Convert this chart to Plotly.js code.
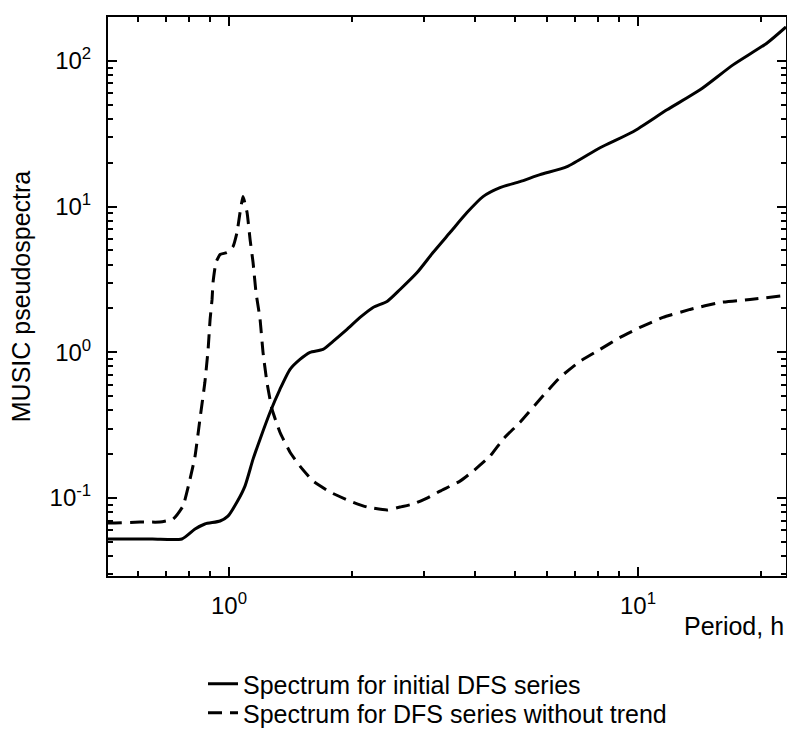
<!DOCTYPE html>
<html>
<head>
<meta charset="utf-8">
<script src="https://cdn.plot.ly/plotly-3.0.1.min.js"></script>
<style>html,body{margin:0;padding:0;background:#fff;}#chart{width:787px;height:738px;}</style>
</head>
<body>
<div id="chart"></div>
<script>
// Spectrum for initial DFS series (solid)
const periodInitial = [0.506, 0.65, 0.767, 0.826, 0.873, 0.951, 0.994, 1.046, 1.094, 1.145, 1.191, 1.260, 1.332, 1.410, 1.491, 1.578, 1.697, 1.796, 1.943, 2.091, 2.250, 2.434, 2.619, 2.883, 3.153, 3.470, 3.818, 4.178, 4.598, 5.146, 5.759, 6.706, 8.075, 9.723, 11.77, 14.18, 17.07, 20.68, 23.0];
const spectrumInitial = [0.0524, 0.0524, 0.0524, 0.0613, 0.0664, 0.0696, 0.0752, 0.0939, 0.1208, 0.185, 0.2536, 0.388, 0.558, 0.765, 0.895, 1.0, 1.048, 1.190, 1.437, 1.736, 2.033, 2.235, 2.701, 3.53, 4.84, 6.64, 9.10, 11.71, 13.49, 14.84, 16.56, 18.79, 25.36, 32.65, 46.16, 63.3, 93.9, 132.8, 171.0];

// Spectrum for DFS series without trend (dashed)
const periodDetrended = [0.506, 0.526, 0.606, 0.678, 0.730, 0.772, 0.803, 0.826, 0.849, 0.873, 0.889, 0.899, 0.909, 0.914, 0.929, 0.951, 0.989, 1.023, 1.046, 1.064, 1.082, 1.107, 1.126, 1.145, 1.164, 1.171, 1.191, 1.211, 1.238, 1.274, 1.332, 1.410, 1.491, 1.605, 1.766, 1.976, 2.175, 2.434, 2.619, 2.818, 3.049, 3.281, 3.671, 3.951, 4.347, 4.677, 5.146, 5.759, 6.447, 7.215, 8.075, 9.036, 10.11, 11.51, 13.40, 15.87, 18.79, 23.0];
const spectrumDetrended = [0.0674, 0.0674, 0.0685, 0.0685, 0.0718, 0.0882, 0.1349, 0.194, 0.3476, 0.623, 1.048, 1.683, 2.307, 3.016, 4.135, 4.69, 4.84, 5.32, 6.64, 9.10, 11.71, 9.10, 5.94, 4.135, 2.576, 2.307, 1.683, 1.0, 0.623, 0.407, 0.283, 0.2065, 0.1656, 0.1307, 0.110, 0.0954, 0.0868, 0.0828, 0.0868, 0.0910, 0.100, 0.1117, 0.1307, 0.1531, 0.194, 0.2536, 0.3316, 0.4766, 0.674, 0.868, 1.048, 1.267, 1.483, 1.736, 1.970, 2.20, 2.307, 2.457];

const seriesNames = ['Spectrum for initial DFS series', 'Spectrum for DFS series without trend'];

const xTickVals = [1, 10];
const xTickText = ['10<sup>0</sup>', '10<sup>1</sup>'];
const xMinorVals = [0.6, 0.7, 0.8, 0.9, 2, 3, 4, 5, 6, 7, 8, 9, 20];
const yTickVals = [0.1, 1, 10, 100];
const yTickText = ['10<sup>-1</sup>', '10<sup>0</sup>', '10<sup>1</sup>', '10<sup>2</sup>'];
const yMinorVals = [0.03, 0.04, 0.05, 0.06, 0.07, 0.08, 0.09, 0.2, 0.3, 0.4, 0.5, 0.6, 0.7, 0.8, 0.9, 2, 3, 4, 5, 6, 7, 8, 9, 20, 30, 40, 50, 60, 70, 80, 90, 200];

const xRange = [0.506, 23.0];
const yRange = [0.0292, 200];

const FONT = 'Liberation Sans, Arial, Helvetica, sans-serif';

const traces = [
  {x: periodInitial, y: spectrumInitial, name: seriesNames[0], type: 'scatter', mode: 'lines',
   line: {color: '#000', width: 3, shape: 'spline', smoothing: 0.6}, legend: 'legend'},
  {x: periodDetrended, y: spectrumDetrended, name: seriesNames[1], type: 'scatter', mode: 'lines',
   line: {color: '#000', width: 3, dash: '14px,8px', shape: 'spline', smoothing: 0.4}, legend: 'legend2'}
];

const axisCommon = {
  type: 'log', showline: true, linecolor: '#000', linewidth: 2, mirror: 'ticks',
  ticks: 'inside', ticklen: 9, tickwidth: 2, tickcolor: '#000',
  showgrid: false, zeroline: false, automargin: false,
  tickfont: {family: FONT, size: 24, color: '#000'}
};

const legendCommon = {xanchor: 'left', yanchor: 'middle', bgcolor: 'rgba(0,0,0,0)', borderwidth: 0,
  font: {family: FONT, size: 25, color: '#000'}};

const layout = {
  width: 787, height: 738,
  margin: {l: 108, r: 1, t: 17, b: 162, autoexpand: false},
  paper_bgcolor: '#fff', plot_bgcolor: '#fff',
  font: {family: FONT, color: '#000'},
  showlegend: true,
  legend: Object.assign({}, legendCommon, {x: (203 - 108) / 678, y: -(684 - 576) / 559}),
  legend2: Object.assign({}, legendCommon, {x: (203 - 108) / 678, y: -(713 - 576) / 559}),
  xaxis: Object.assign({}, axisCommon, {
    range: xRange.map(Math.log10), tickvals: xTickVals, ticktext: xTickText, ticklabelstandoff: 7,
    minor: {tickvals: xMinorVals, ticks: 'inside', ticklen: 5, tickwidth: 2, tickcolor: '#000', showgrid: false}
  }),
  yaxis: Object.assign({}, axisCommon, {
    range: yRange.map(Math.log10), tickvals: yTickVals, ticktext: yTickText, ticklabelstandoff: 10,
    title: {text: 'MUSIC pseudospectra', font: {family: FONT, size: 25, color: '#000'}, standoff: 12},
    minor: {tickvals: yMinorVals, ticks: 'inside', ticklen: 5, tickwidth: 2, tickcolor: '#000', showgrid: false}
  }),
  annotations: [{
    text: 'Period, h', xref: 'paper', yref: 'paper', x: 1, y: -0.0894,
    xanchor: 'right', yanchor: 'middle', showarrow: false,
    font: {family: FONT, size: 25, color: '#000'}
  }]
};

Plotly.newPlot('chart', traces, layout, {displayModeBar: false, staticPlot: true});
</script>
</body>
</html>
